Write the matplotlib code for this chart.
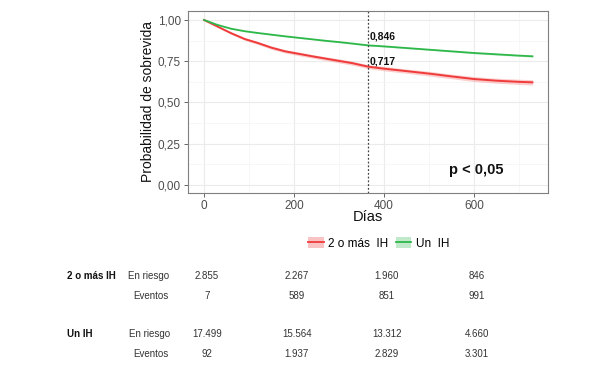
import matplotlib
matplotlib.use("Agg")
import matplotlib.pyplot as plt
from matplotlib.lines import Line2D
from matplotlib.patches import Patch
from matplotlib.transforms import blended_transform_factory
import numpy as np

plt.rcParams['font.family'] = ['Liberation Sans', 'DejaVu Sans']

# ---- data ----
days = [0, 30, 60, 90, 120, 150, 180, 210, 240, 270, 300, 330, 365,
        400, 450, 500, 550, 600, 650, 700, 730]
surv_2mas = [1.0, 0.96, 0.92, 0.885, 0.86, 0.832, 0.81, 0.795, 0.78, 0.766,
             0.752, 0.738, 0.717, 0.705, 0.69, 0.675, 0.658, 0.642, 0.632,
             0.625, 0.622]
surv_un = [1.0, 0.97, 0.947, 0.932, 0.921, 0.911, 0.901, 0.892, 0.883, 0.874,
           0.866, 0.857, 0.846, 0.84, 0.83, 0.82, 0.81, 0.80, 0.792, 0.784,
           0.78]
ci_2mas = [0.0, 0.005, 0.007, 0.008, 0.009, 0.01, 0.01, 0.011, 0.011, 0.011,
           0.012, 0.012, 0.012, 0.013, 0.013, 0.014, 0.014, 0.015, 0.015,
           0.016, 0.016]
ci_un = [0.0, 0.002, 0.002, 0.003, 0.003, 0.003, 0.003, 0.003, 0.003, 0.004,
         0.004, 0.004, 0.004, 0.004, 0.004, 0.004, 0.004, 0.005, 0.005,
         0.005, 0.005]
labels = ["2 o más  IH", "Un  IH"]
mark_day = 365
mark_vals = ["0,846", "0,717"]
mark_y = [0.846, 0.717]

table_times = [0, 200, 400, 600]
groups = ["2 o más IH", "Un IH"]
riesgo_2mas = ["2.855", "2.267", "1.960", "846"]
eventos_2mas = ["7", "589", "851", "991"]
riesgo_un = ["17.499", "15.564", "13.312", "4.660"]
eventos_un = ["92", "1.937", "2.829", "3.301"]

yticks = [0, 0.25, 0.5, 0.75, 1.0]
ytick_labels = ["0,00", "0,25", "0,50", "0,75", "1,00"]
xticks = [0, 200, 400, 600]

red = "#F03B3B"
green = "#2EB84A"

fig = plt.figure(figsize=(5.89, 3.76), dpi=100)
ax = fig.add_axes([0.319, 0.487, 0.611, 0.484])

d = np.array(days)
s1, s2 = np.array(surv_2mas), np.array(surv_un)
c1, c2 = np.array(ci_2mas), np.array(ci_un)
ax.fill_between(d, s1 - c1, s1 + c1, color=red, alpha=0.25, lw=0)
ax.fill_between(d, s2 - c2, s2 + c2, color=green, alpha=0.25, lw=0)
ax.plot(d, s1, color=red, lw=1.4)
ax.plot(d, s2, color=green, lw=1.3)

ax.axvline(mark_day, color="#444444", lw=0.9, ls=(0, (1.5, 1.5)))
ax.text(mark_day + 3, mark_y[0] + 0.055, mark_vals[0], fontsize=7.5,
        fontweight="bold", ha="left", va="center", color="#111111")
ax.text(mark_day + 3, mark_y[1] + 0.03, mark_vals[1], fontsize=7.5,
        fontweight="bold", ha="left", va="center", color="#111111")
ax.text(545, 0.09, "p < 0,05", fontsize=10.5, fontweight="bold",
        ha="left", va="center", color="#111111")

ax.set_xlim(-36, 764)
ax.set_ylim(-0.048, 1.055)
ax.set_xticks(xticks)
ax.set_yticks(yticks)
ax.set_yticklabels(ytick_labels)
ax.set_xticks([100, 300, 500, 700], minor=True)
ax.set_yticks([0.125, 0.375, 0.625, 0.875], minor=True)
ax.grid(True, which="major", color="#EBEBEB", lw=0.8)
ax.grid(True, which="minor", color="#F4F4F4", lw=0.5)
ax.set_axisbelow(True)
ax.tick_params(which="major", labelsize=8.5, colors="#4D4D4D", length=3,
               width=0.6, pad=2)
ax.tick_params(which="minor", length=0)
for sp in ax.spines.values():
    sp.set_color("#7F7F7F")
    sp.set_linewidth(0.8)
ax.set_xlabel("Días", fontsize=10.5, color="#111111", labelpad=-1)
ax.set_ylabel("Probabilidad de sobrevida", fontsize=10, color="#111111", labelpad=2)

handles = [(Patch(facecolor=red, alpha=0.3, lw=0), Line2D([], [], color=red, lw=1.3)),
           (Patch(facecolor=green, alpha=0.3, lw=0), Line2D([], [], color=green, lw=1.3))]
fig.legend(handles, labels, loc="center", bbox_to_anchor=(0.643, 0.353), ncol=2,
           frameon=False, fontsize=8.5, handlelength=1.3, handleheight=1.1,
           handletextpad=0.4, columnspacing=0.6)

# risk table
fs = 7
tr = blended_transform_factory(ax.transData, fig.transFigure)
rows = [(riesgo_2mas, 1 - 275.7 / 376), (eventos_2mas, 1 - 296 / 376),
        (riesgo_un, 1 - 334 / 376), (eventos_un, 1 - 354 / 376)]
for vals, y in rows:
    for t, v in zip(table_times, vals):
        fig.text(t + 6, y, v, transform=tr, fontsize=fs, ha="center",
                 va="center", color="#333333")
fig.text(66.7 / 589, 1 - 275.7 / 376, groups[0], fontsize=fs, fontweight="bold",
         va="center", ha="left", color="#111111")
fig.text(66.7 / 589, 1 - 334 / 376, groups[1], fontsize=fs, fontweight="bold",
         va="center", ha="left", color="#111111")
fig.text(127.7 / 589, 1 - 275.7 / 376, "En riesgo", fontsize=fs, va="center",
         ha="left", color="#333333")
fig.text(169 / 589, 1 - 296 / 376, "Eventos", fontsize=fs, va="center",
         ha="right", color="#333333")
fig.text(170 / 589, 1 - 334 / 376, "En riesgo", fontsize=fs, va="center",
         ha="right", color="#333333")
fig.text(169 / 589, 1 - 354 / 376, "Eventos", fontsize=fs, va="center",
         ha="right", color="#333333")

fig.savefig("out.png", dpi=100, facecolor="white")
